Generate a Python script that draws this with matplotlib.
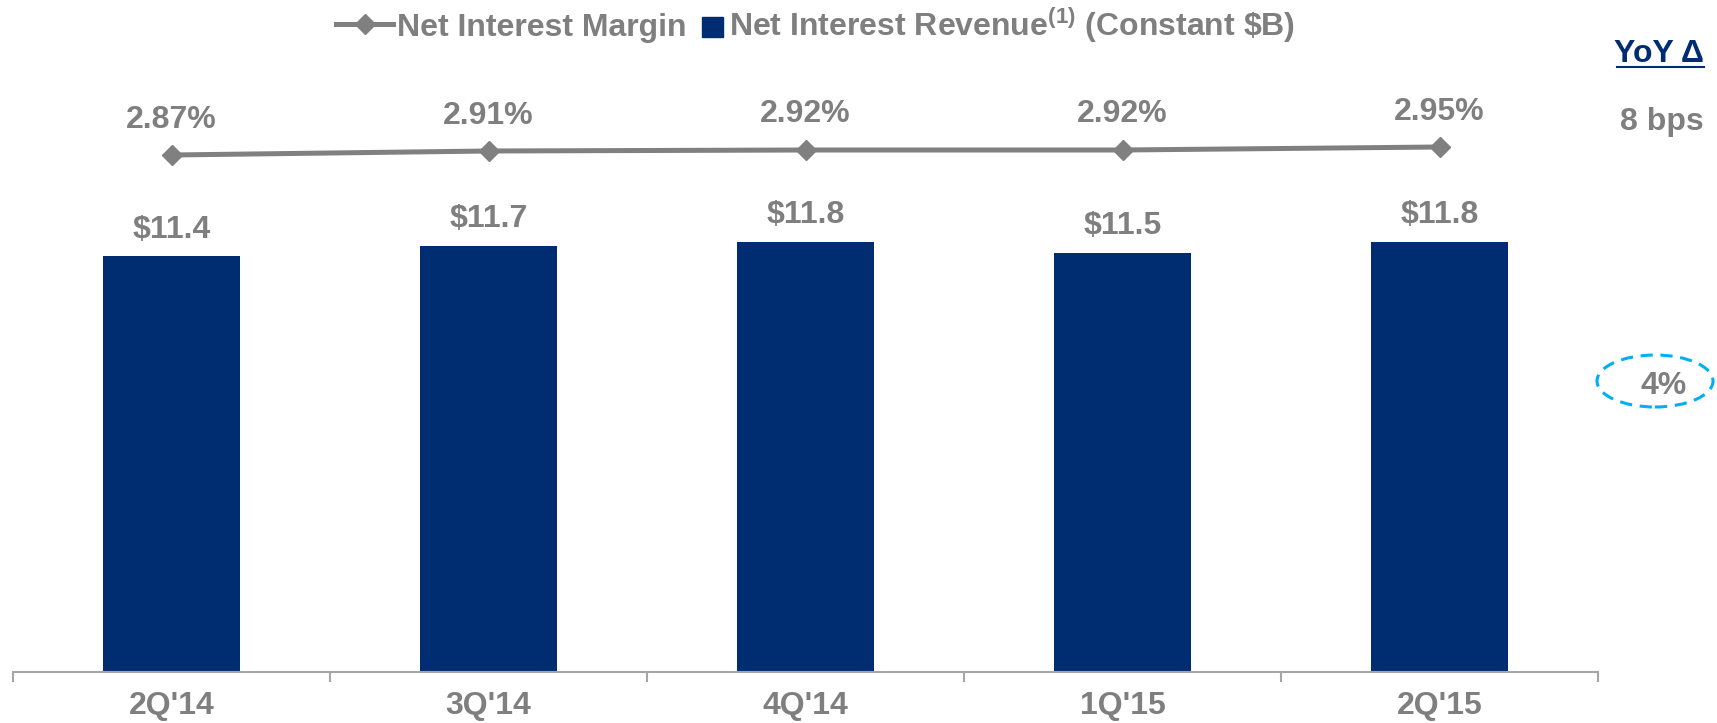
import matplotlib
matplotlib.use('Agg')
import matplotlib.pyplot as plt
from matplotlib.lines import Line2D
from matplotlib.patches import Rectangle, Ellipse
import numpy as np

plt.rcParams['font.family'] = ['Liberation Sans', 'DejaVu Sans']
plt.rcParams['font.weight'] = 'bold'
plt.rcParams['mathtext.fontset'] = 'custom'
plt.rcParams['mathtext.rm'] = 'Liberation Sans:bold'
plt.rcParams['mathtext.bf'] = 'Liberation Sans:bold'

# data
quarters = ["2Q'14", "3Q'14", "4Q'14", "1Q'15", "2Q'15"]
revenue = [11.4, 11.7, 11.8, 11.5, 11.8]          # $B
margin = [2.87, 2.91, 2.92, 2.92, 2.95]           # %
yoy_margin = '8 bps'
yoy_revenue = '4%'

# colours
navy = '#002D72'
grey = '#7F7F7F'
line_grey = '#808080'
axis_grey = '#A6A6A6'
cyan = '#00B0F0'

fontsize = 23

# figure in pixels
W, H = 1717, 723
fig = plt.figure(figsize=(W / 100, H / 100), dpi=100)


def fx(px):
    return px / W


def fy(py):
    return 1 - py / H


# axes: bottom spine at y=672px, top at 100px
ax = fig.add_axes([fx(13), fy(672), (1598 - 13) / W, (672 - 100) / H])
x = np.arange(len(quarters))

ax.bar(x, revenue, width=0.432, color=navy, zorder=2)
ax.set_xlim(-0.5, len(quarters) - 0.5)
ax.set_ylim(0, 572 / 36.45)

for xi, v in zip(x, revenue):
    ax.annotate('$%.1f' % v, xy=(xi, v), xytext=(0, 13.3), textcoords='offset points',
                ha='center', va='baseline', fontsize=fontsize, color=grey, fontweight='bold')

ax.set_xticks(x)
ax.set_xticklabels(quarters, fontsize=fontsize, color=grey, fontweight='bold')
ax.set_xticks(np.arange(-0.5, len(quarters)), minor=True)
ax.tick_params(axis='x', which='major', length=0, pad=14)
ax.tick_params(axis='x', which='minor', length=7.2, width=1.5, color=axis_grey, direction='out')
ax.set_yticks([])
for s in ['top', 'left', 'right']:
    ax.spines[s].set_visible(False)
ax.spines['bottom'].set_color(axis_grey)
ax.spines['bottom'].set_linewidth(1.5)

# secondary axis for the margin line
ax2 = ax.twinx()
ax2.set_ylim(2.87 - (672 - 155) / 100, 2.87 + (155 - 100) / 100)
ax2.plot(x, margin, color=line_grey, lw=3.6, marker='D', ms=10, zorder=3)
for xi, v in zip(x, margin):
    ax2.annotate('%.2f%%' % v, xy=(xi, v), xytext=(0, 19.8), textcoords='offset points',
                 ha='center', va='baseline', fontsize=fontsize, color=grey, fontweight='bold')
ax2.set_yticks([])
ax2.axis('off')

# legend (drawn by hand)
fig.add_artist(Line2D([fx(336), fx(393)], [fy(24), fy(24)], color=line_grey, lw=3.6,
                      transform=fig.transFigure))
fig.add_artist(Line2D([fx(364.5)], [fy(24)], color=line_grey, marker='D', ms=10,
                      transform=fig.transFigure))
fig.text(fx(397), fy(36), 'Net Interest Margin', fontsize=fontsize, color=grey,
         fontweight='bold', ha='left', va='baseline')
fig.add_artist(Rectangle((fx(702), fy(37)), 21 / W, 20 / H, color=navy,
                         transform=fig.transFigure))
fig.text(fx(729), fy(36), r'Net Interest Revenue$^{\mathregular{(1)}}$ (Constant \$B)',
         fontsize=fontsize, color=grey, fontweight='bold', ha='left', va='baseline')

# YoY column
fig.text(fx(1704), fy(62), 'YoY \u0394', fontsize=fontsize, color=navy, fontweight='bold',
         ha='right', va='baseline')
fig.add_artist(Line2D([fx(1617), fx(1704)], [fy(67), fy(67)], color=navy, lw=1.5,
                      transform=fig.transFigure))
fig.text(fx(1704), fy(130), yoy_margin, fontsize=fontsize, color=grey, fontweight='bold',
         ha='right', va='baseline')
fig.add_artist(Ellipse((fx(1655), fy(381)), 116 / W, 52 / H, fill=False, edgecolor=cyan,
                       lw=2.2, linestyle=(0, (4, 2.5)), transform=fig.transFigure))
fig.text(fx(1664), fy(394), yoy_revenue, fontsize=fontsize, color=grey, fontweight='bold',
         ha='center', va='baseline')

plt.savefig('out.png', dpi=100)
